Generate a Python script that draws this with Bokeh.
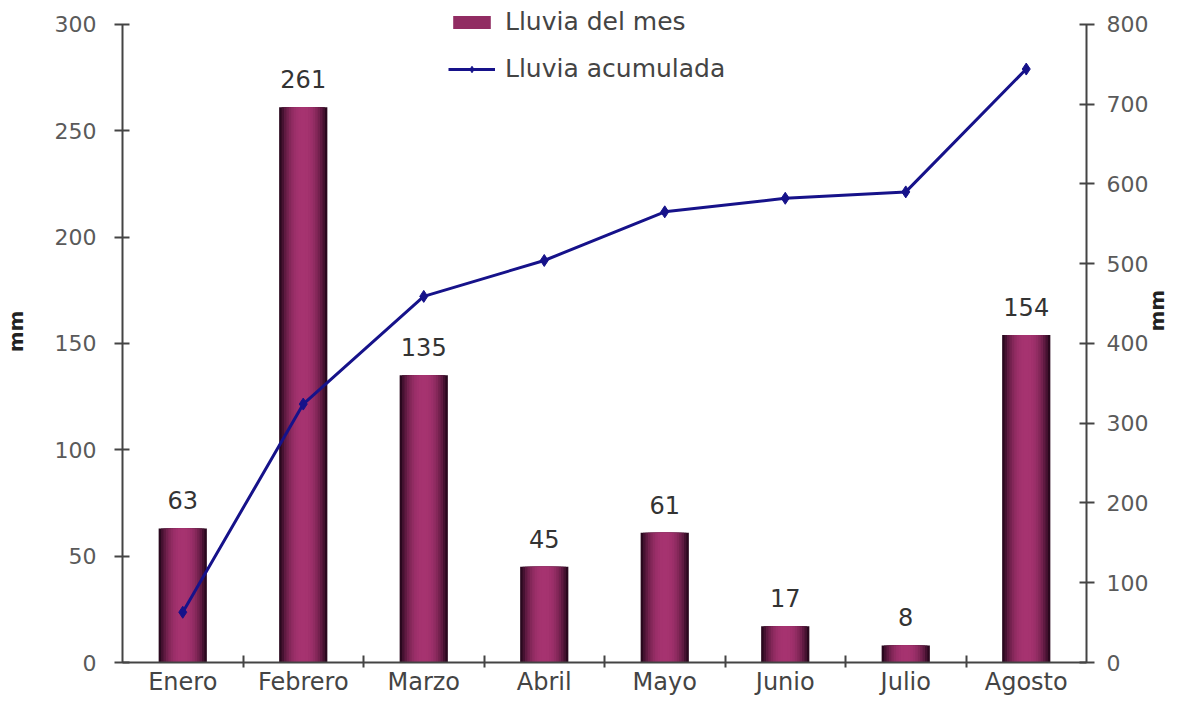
import math
import numpy as np
from bokeh.plotting import figure
from bokeh.models import (ColumnDataSource, Range1d, LinearAxis, FixedTicker,
                          Legend, LegendItem)
from bokeh.core.properties import value
from bokeh.embed import file_html
from bokeh.resources import INLINE

# ---- data ----
months = ["Enero", "Febrero", "Marzo", "Abril", "Mayo", "Junio", "Julio", "Agosto"]
rain_month = [63, 261, 135, 45, 61, 17, 8, 154]
rain_accum = [63, 324, 459, 504, 565, 582, 590, 744]
left_ticks = [0, 50, 100, 150, 200, 250, 300]
right_ticks = [0, 100, 200, 300, 400, 500, 600, 700, 800]

FONT = "DejaVu Sans"

# layout: frame spans y=0..665 px; axes drawn only for 0..300 / 0..800,
# whose top sits at y=24 px
FRAME_H = 665
AXIS_H = 641
LEFT_MAX = left_ticks[-1]
RIGHT_MAX = right_ticks[-1]

xpos = np.arange(len(months)) + 0.5
src = ColumnDataSource(dict(x=xpos, m=rain_month, acc=rain_accum,
                            lbl=[str(v) for v in rain_month]))

p = figure(width=1184, height=698, output_backend="svg", toolbar_location=None,
           x_range=Range1d(0, len(months)),
           y_range=Range1d(0, LEFT_MAX * FRAME_H / AXIS_H),
           min_border_left=122, min_border_right=91, min_border_top=0,
           min_border_bottom=33)
p.outline_line_color = None
p.xgrid.visible = False
p.ygrid.visible = False
p.background_fill_color = "white"
p.border_fill_color = "white"
p.xaxis.visible = False
p.yaxis.visible = False

p.extra_y_ranges = {"acc": Range1d(0, RIGHT_MAX * FRAME_H / AXIS_H)}

# gradient-like bars: nested stripes
N = 10
dark = np.array([0x2a, 0x08, 0x1e])
light = np.array([0xa6, 0x33, 0x70])
bar_renderers = []
for k in range(N):
    t = k / (N - 1)
    f = 1 - (1 - t) ** 2.2
    c = dark + (light - dark) * f
    col = "#%02x%02x%02x" % tuple(int(round(v)) for v in c)
    w = 0.40 * (1 - k / N)
    r = p.vbar(x="x", top="m", width=w, bottom=0, source=src,
               fill_color=col, line_color=None)
    bar_renderers.append(r)

p.text(x="x", y="m", text="lbl", source=src, text_align="center",
       text_baseline="bottom", y_offset=-19, text_font=value(FONT),
       text_font_size="24px", text_color="#333333")

ln = p.line(x="x", y="acc", source=src, y_range_name="acc",
            line_color="#16128a", line_width=3)
sc = p.scatter(x="x", y="acc", source=src, y_range_name="acc", marker="diamond",
               size=12, fill_color="#16128a", line_color="#16128a")

def style_axis(ax):
    ax.axis_line_color = "#444444"
    ax.axis_line_width = 2
    ax.major_tick_line_color = "#444444"
    ax.major_tick_line_width = 2
    ax.minor_tick_line_color = None
    ax.major_tick_in = 7
    ax.major_tick_out = 8
    ax.major_label_text_font = FONT
    ax.major_label_text_font_size = "22px"
    ax.major_label_text_color = "#5a5a5a"
    ax.axis_label_text_font = FONT
    ax.axis_label_text_font_size = "20px"
    ax.axis_label_text_font_style = "bold"
    ax.axis_label_text_color = "#222222"

yl = LinearAxis(ticker=FixedTicker(ticks=left_ticks), axis_label="mm",
                bounds=(0, LEFT_MAX))
style_axis(yl)
yl.major_label_standoff = 18
yl.axis_label_standoff = 24
p.add_layout(yl, "left")

yr = LinearAxis(y_range_name="acc", ticker=FixedTicker(ticks=right_ticks),
                axis_label="mm", bounds=(0, RIGHT_MAX))
style_axis(yr)
yr.major_label_standoff = 12
yr.axis_label_standoff = 6
yr.axis_label_orientation = math.pi / 2
p.add_layout(yr, "right")

xa = LinearAxis(ticker=FixedTicker(ticks=list(xpos),
                                   minor_ticks=list(np.arange(1, len(months)))),
                major_label_overrides={float(x): m for x, m in zip(xpos, months)})
style_axis(xa)
xa.major_tick_line_color = None
xa.minor_tick_line_color = "#444444"
xa.minor_tick_line_width = 2
xa.minor_tick_in = 7
xa.minor_tick_out = 5
xa.major_tick_in = 0
xa.major_tick_out = 5
xa.major_label_standoff = 0
xa.major_label_text_font_size = "24px"
xa.major_label_text_color = "#444444"
p.add_layout(xa, "below")

legend = Legend(items=[
    LegendItem(label="Lluvia del mes", renderers=[bar_renderers[5]]),
    LegendItem(label="Lluvia acumulada", renderers=[ln, sc]),
])
legend.location = (326, 579)
legend.border_line_color = None
legend.background_fill_alpha = 0
legend.label_text_font = FONT
legend.label_text_font_size = "25px"
legend.label_text_color = "#444444"
legend.glyph_width = 47
legend.glyph_height = 16
legend.spacing = 18
legend.padding = 4
legend.label_standoff = 10
legend.margin = 0
p.add_layout(legend, "center")

open("out.html", "w").write(file_html(p, INLINE))
